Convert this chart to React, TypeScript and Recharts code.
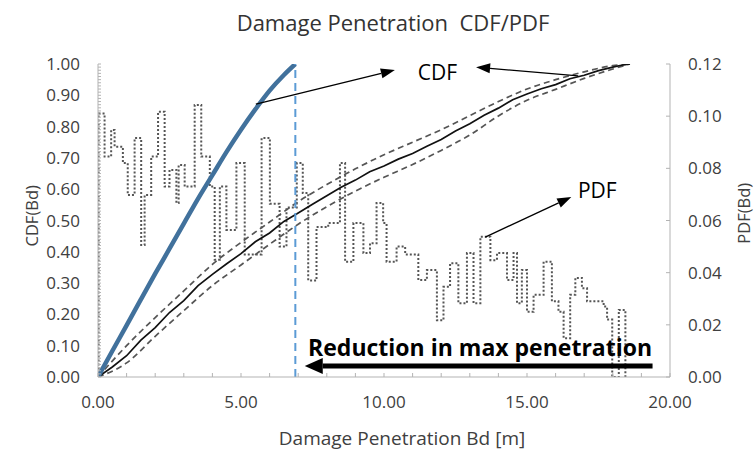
import React from 'react';
import { ComposedChart, Line, XAxis, YAxis, ReferenceLine, ReferenceDot } from 'recharts';

const FONT = "'Open Sans', sans-serif";

// tick labels
const xTicks = [0, 5, 10, 15, 20];
const cdfTicks = [0, 0.1, 0.2, 0.3, 0.4, 0.5, 0.6, 0.7, 0.8, 0.9, 1.0];
const pdfTicks = [0, 0.02, 0.04, 0.06, 0.08, 0.1, 0.12];
const xMinorTicks = Array.from({ length: 21 }, (_, i) => i);
const cdfMinorTicks = Array.from({ length: 101 }, (_, i) => i / 100);

// blue CDF (reduced penetration)
const blueX = [0, 0.5, 1, 1.5, 2, 2.5, 3, 3.5, 4, 4.5, 5, 5.5, 6, 6.5, 6.9];
const blueCdf = [0, 0.083, 0.165, 0.248, 0.33, 0.41, 0.49, 0.57, 0.645, 0.72, 0.79, 0.855, 0.915, 0.965, 1.0];

// black CDF with bounds
const cdfX = [0, 0.5, 1, 1.5, 2, 2.5, 3, 3.5, 4, 4.5, 5, 5.5, 6, 6.5, 7, 7.5, 8, 8.5, 9, 9.5, 10, 10.5, 11, 11.5, 12, 12.5, 13, 13.5, 14, 14.5, 15, 15.5, 16, 16.5, 17, 17.5, 18, 18.3, 18.6];
const cdfMean = [0, 0.032, 0.068, 0.118, 0.158, 0.206, 0.244, 0.292, 0.328, 0.362, 0.394, 0.432, 0.46, 0.497, 0.524, 0.552, 0.579, 0.606, 0.629, 0.656, 0.674, 0.696, 0.714, 0.737, 0.759, 0.786, 0.809, 0.836, 0.859, 0.886, 0.904, 0.921, 0.934, 0.953, 0.964, 0.979, 0.99, 0.996, 1.0];
const boundX = [0, 1, 2, 3, 4, 5, 6, 7, 8, 9, 10, 11, 12, 13, 14, 15, 16, 17, 18, 18.6];
const cdfUpper = [0, 0.1, 0.19, 0.275, 0.36, 0.43, 0.495, 0.56, 0.615, 0.665, 0.71, 0.75, 0.79, 0.835, 0.88, 0.92, 0.95, 0.975, 0.995, 1.0];
const cdfLower = [0, 0.045, 0.13, 0.212, 0.292, 0.358, 0.424, 0.488, 0.544, 0.594, 0.638, 0.679, 0.724, 0.773, 0.834, 0.884, 0.919, 0.954, 0.984, 1.0];

// PDF histogram outline
const pdfEdges = [0, 0.02, 0.23, 0.46, 0.58, 0.87, 1.04, 1.28, 1.51, 1.63, 1.86, 2.1, 2.33, 2.5, 2.74, 2.82, 3.03, 3.38, 3.61, 3.91, 4.08, 4.26, 4.49, 4.84, 5.13, 5.72, 6.01, 6.35, 6.59, 6.95, 7.16, 7.35, 7.64, 8.05, 8.46, 8.64, 8.93, 9.28, 9.51, 9.74, 9.97, 10.09, 10.44, 10.74, 11.2, 11.5, 11.85, 12.08, 12.31, 12.6, 12.9, 13.13, 13.37, 13.72, 13.95, 14.3, 14.53, 14.65, 14.82, 15.0, 15.23, 15.58, 15.87, 16.1, 16.28, 16.51, 16.69, 16.92, 17.1, 17.39, 17.68, 17.8, 17.98, 18.21, 18.44];
const pdfValues = [0, 0.101, 0.0845, 0.0947, 0.0883, 0.082, 0.0698, 0.0916, 0.0506, 0.0698, 0.0845, 0.1017, 0.073, 0.0794, 0.0667, 0.0813, 0.073, 0.1043, 0.0845, 0.073, 0.045, 0.073, 0.0564, 0.082, 0.047, 0.0916, 0.0664, 0.05, 0.065, 0.082, 0.0705, 0.037, 0.0575, 0.059, 0.082, 0.0442, 0.059, 0.0475, 0.0513, 0.0667, 0.059, 0.0442, 0.05, 0.047, 0.0372, 0.041, 0.0218, 0.0346, 0.0436, 0.0283, 0.0475, 0.0283, 0.0538, 0.0448, 0.0475, 0.0372, 0.0475, 0.0283, 0.041, 0.025, 0.0315, 0.0442, 0.029, 0.025, 0.0149, 0.0315, 0.038, 0.034, 0.029, 0.029, 0.027, 0.022, 0, 0.0257, 0];

const maxPenetration = 6.9;

// annotations (data coordinates)
const arrowBlue = [{ x: 5.52, y: 0.872 }, { x: 10.38, y: 0.981 }];
const arrowBlack = [{ x: 16.79, y: 0.962 }, { x: 13.22, y: 0.99 }];
const arrowPdf = [{ x: 13.54, y: 0.447 }, { x: 16.55, y: 0.575 }];
const arrowReduction = [{ x: 19.39, y: 0.035 }, { x: 7.23, y: 0.035 }];
const cdfLabelPos = { x: 11.87, y: 0.974 };
const pdfLabelPos = { x: 17.46, y: 0.597 };
const reductionLabelPos = { x: 13.36, y: 0.095 };

const blueData = blueX.map((x, i) => ({ x, y: blueCdf[i] }));
const meanData = cdfX.map((x, i) => ({ x, y: cdfMean[i] }));
const upperData = boundX.map((x, i) => ({ x, y: cdfUpper[i] }));
const lowerData = boundX.map((x, i) => ({ x, y: cdfLower[i] }));
const pdfData = pdfEdges.map((x, i) => ({ x, y: pdfValues[i] }));

const TICK_FILL = '#404040';
const TICK_SIZE = 17;
const axisGray = '#b3b3b3';
const X_MARGIN = 19;
const Y_MARGIN = 18;

const isLabelled = (v: number, list: number[]) => list.some((t) => Math.abs(t - v) < 1e-9);

const XTick = (props: any) => {
  const { x, y, payload } = props;
  const v = payload.value as number;
  const axisY = y - X_MARGIN;
  return (
    <g>
      <line x1={x} x2={x} y1={axisY} y2={axisY - 4} stroke={axisGray} strokeWidth={1} />
      {isLabelled(v, xTicks) && (
        <text x={x} y={y} dy="0.71em" textAnchor="middle" fill={TICK_FILL} fontSize={TICK_SIZE} fontFamily={FONT}>
          {v.toFixed(2)}
        </text>
      )}
    </g>
  );
};

const LeftTick = (props: any) => {
  const { x, y, payload } = props;
  const v = payload.value as number;
  const axisX = x + Y_MARGIN;
  return (
    <g>
      <line x1={axisX} x2={axisX + 3} y1={y} y2={y} stroke={axisGray} strokeWidth={1} />
      {isLabelled(v, cdfTicks) && (
        <text x={x} y={y} dy="0.355em" textAnchor="end" fill={TICK_FILL} fontSize={TICK_SIZE} fontFamily={FONT}>
          {v.toFixed(2)}
        </text>
      )}
    </g>
  );
};

const RightTick = (props: any) => {
  const { x, y, payload } = props;
  const v = payload.value as number;
  const axisX = x - Y_MARGIN;
  return (
    <g>
      <line x1={axisX} x2={axisX - 4} y1={y} y2={y} stroke={axisGray} strokeWidth={1} />
      <text x={x} y={y} dy="0.355em" textAnchor="start" fill={TICK_FILL} fontSize={TICK_SIZE} fontFamily={FONT}>
        {v.toFixed(2)}
      </text>
    </g>
  );
};

const makeArrow = (width: number, headLen: number, headHalf: number) => (props: any) => {
  const { x1, y1, x2, y2 } = props;
  const dx = x2 - x1;
  const dy = y2 - y1;
  const len = Math.sqrt(dx * dx + dy * dy) || 1;
  const ux = dx / len;
  const uy = dy / len;
  const bx = x2 - ux * headLen;
  const by = y2 - uy * headLen;
  const px = -uy * headHalf;
  const py = ux * headHalf;
  return (
    <g>
      <line x1={x1} y1={y1} x2={bx} y2={by} stroke="#000" strokeWidth={width} />
      <polygon points={`${x2},${y2} ${bx + px},${by + py} ${bx - px},${by - py}`} fill="#000" />
    </g>
  );
};

const textShape = (text: string, size: number, weight: number | string) => (props: any) => (
  <text
    x={props.cx}
    y={props.cy}
    textAnchor="middle"
    dominantBaseline="central"
    fontFamily={FONT}
    fontSize={size}
    fontWeight={weight}
    fill="#000"
  >
    {text}
  </text>
);

const leftLabel = (props: any) => {
  const vb = props.viewBox;
  const cx = vb.x + 32;
  const cy = vb.y + vb.height * 0.485;
  return (
    <text x={cx} y={cy} transform={`rotate(-90 ${cx} ${cy})`} textAnchor="middle" dominantBaseline="central" fontFamily={FONT} fontSize={16.5} fill="#404040">
      CDF(Bd)
    </text>
  );
};

const rightLabel = (props: any) => {
  const vb = props.viewBox;
  const cx = vb.x + 74;
  const cy = vb.y + vb.height * 0.477;
  return (
    <text x={cx} y={cy} transform={`rotate(-90 ${cx} ${cy})`} textAnchor="middle" dominantBaseline="central" fontFamily={FONT} fontSize={16.5} fill="#404040">
      PDF(Bd)
    </text>
  );
};

const bottomLabel = (props: any) => {
  const vb = props.viewBox;
  return (
    <text x={vb.x + vb.width / 2 + 18} y={vb.y + 61} textAnchor="middle" dominantBaseline="central" fontFamily={FONT} fontSize={19} fill="#404040">
      Damage Penetration Bd [m]
    </text>
  );
};

export default function App() {
  return (
    <div style={{ position: 'absolute', left: 0, top: 0, width: 756, height: 450, background: '#fff' }}>
      <div
        style={{
          position: 'absolute',
          left: 30,
          top: 7,
          width: 726,
          textAlign: 'center',
          fontFamily: FONT,
          fontSize: 22,
          color: '#333',
          whiteSpace: 'pre',
          lineHeight: '30px',
        }}
      >
        {'Damage Penetration  CDF/PDF'}
      </div>
      <ComposedChart width={756} height={450} margin={{ top: 64, right: 0, bottom: 0, left: 0 }}>
        <XAxis
          xAxisId="x"
          type="number"
          dataKey="x"
          domain={[0, 20]}
          ticks={xMinorTicks}
          interval={0}
          tick={<XTick />}
          tickLine={false}
          tickSize={0}
          tickMargin={X_MARGIN}
          height={73}
          stroke={axisGray}
          allowDataOverflow
          label={bottomLabel}
        />
        <YAxis
          yAxisId="left"
          type="number"
          domain={[0, 1]}
          ticks={cdfMinorTicks}
          interval={0}
          tick={<LeftTick />}
          tickLine={false}
          tickSize={0}
          tickMargin={Y_MARGIN}
          width={98}
          stroke={axisGray}
          allowDataOverflow
          label={leftLabel}
        />
        <YAxis
          yAxisId="right"
          orientation="right"
          type="number"
          domain={[0, 0.12]}
          ticks={pdfTicks}
          interval={0}
          tick={<RightTick />}
          tickLine={false}
          tickSize={0}
          tickMargin={Y_MARGIN}
          width={86}
          stroke={axisGray}
          allowDataOverflow
          label={rightLabel}
        />

        <Line
          xAxisId="x"
          yAxisId="right"
          data={pdfData}
          dataKey="y"
          type="stepAfter"
          stroke="#555"
          strokeWidth={2}
          strokeDasharray="2 2"
          dot={false}
          isAnimationActive={false}
        />
        <Line
          xAxisId="x"
          yAxisId="left"
          data={upperData}
          dataKey="y"
          type="monotone"
          stroke="#555"
          strokeWidth={1.7}
          strokeDasharray="6 4"
          dot={false}
          isAnimationActive={false}
        />
        <Line
          xAxisId="x"
          yAxisId="left"
          data={lowerData}
          dataKey="y"
          type="monotone"
          stroke="#555"
          strokeWidth={1.7}
          strokeDasharray="6 4"
          dot={false}
          isAnimationActive={false}
        />
        <Line
          xAxisId="x"
          yAxisId="left"
          data={meanData}
          dataKey="y"
          type="linear"
          stroke="#111"
          strokeWidth={1.7}
          dot={false}
          isAnimationActive={false}
        />
        <Line
          xAxisId="x"
          yAxisId="left"
          data={blueData}
          dataKey="y"
          type="monotone"
          stroke="#41719C"
          strokeWidth={4.5}
          dot={false}
          isAnimationActive={false}
        />
        <ReferenceLine
          xAxisId="x"
          yAxisId="left"
          x={maxPenetration}
          stroke="#5B9BD5"
          strokeWidth={2}
          strokeDasharray="8 5"
        />
        <ReferenceLine xAxisId="x" yAxisId="left" segment={arrowBlue} shape={makeArrow(1.3, 14, 5)} />
        <ReferenceLine xAxisId="x" yAxisId="left" segment={arrowBlack} shape={makeArrow(1.3, 14, 5)} />
        <ReferenceLine xAxisId="x" yAxisId="left" segment={arrowPdf} shape={makeArrow(1.3, 14, 5)} />
        <ReferenceLine xAxisId="x" yAxisId="left" segment={arrowReduction} shape={makeArrow(5, 18, 8)} />
        <ReferenceDot xAxisId="x" yAxisId="left" x={cdfLabelPos.x} y={cdfLabelPos.y} shape={textShape('CDF', 21, 400)} />
        <ReferenceDot xAxisId="x" yAxisId="left" x={pdfLabelPos.x} y={pdfLabelPos.y} shape={textShape('PDF', 21, 400)} />
        <ReferenceDot
          xAxisId="x"
          yAxisId="left"
          x={reductionLabelPos.x}
          y={reductionLabelPos.y}
          shape={textShape('Reduction in max penetration', 23, 700)}
        />
      </ComposedChart>
    </div>
  );
}
